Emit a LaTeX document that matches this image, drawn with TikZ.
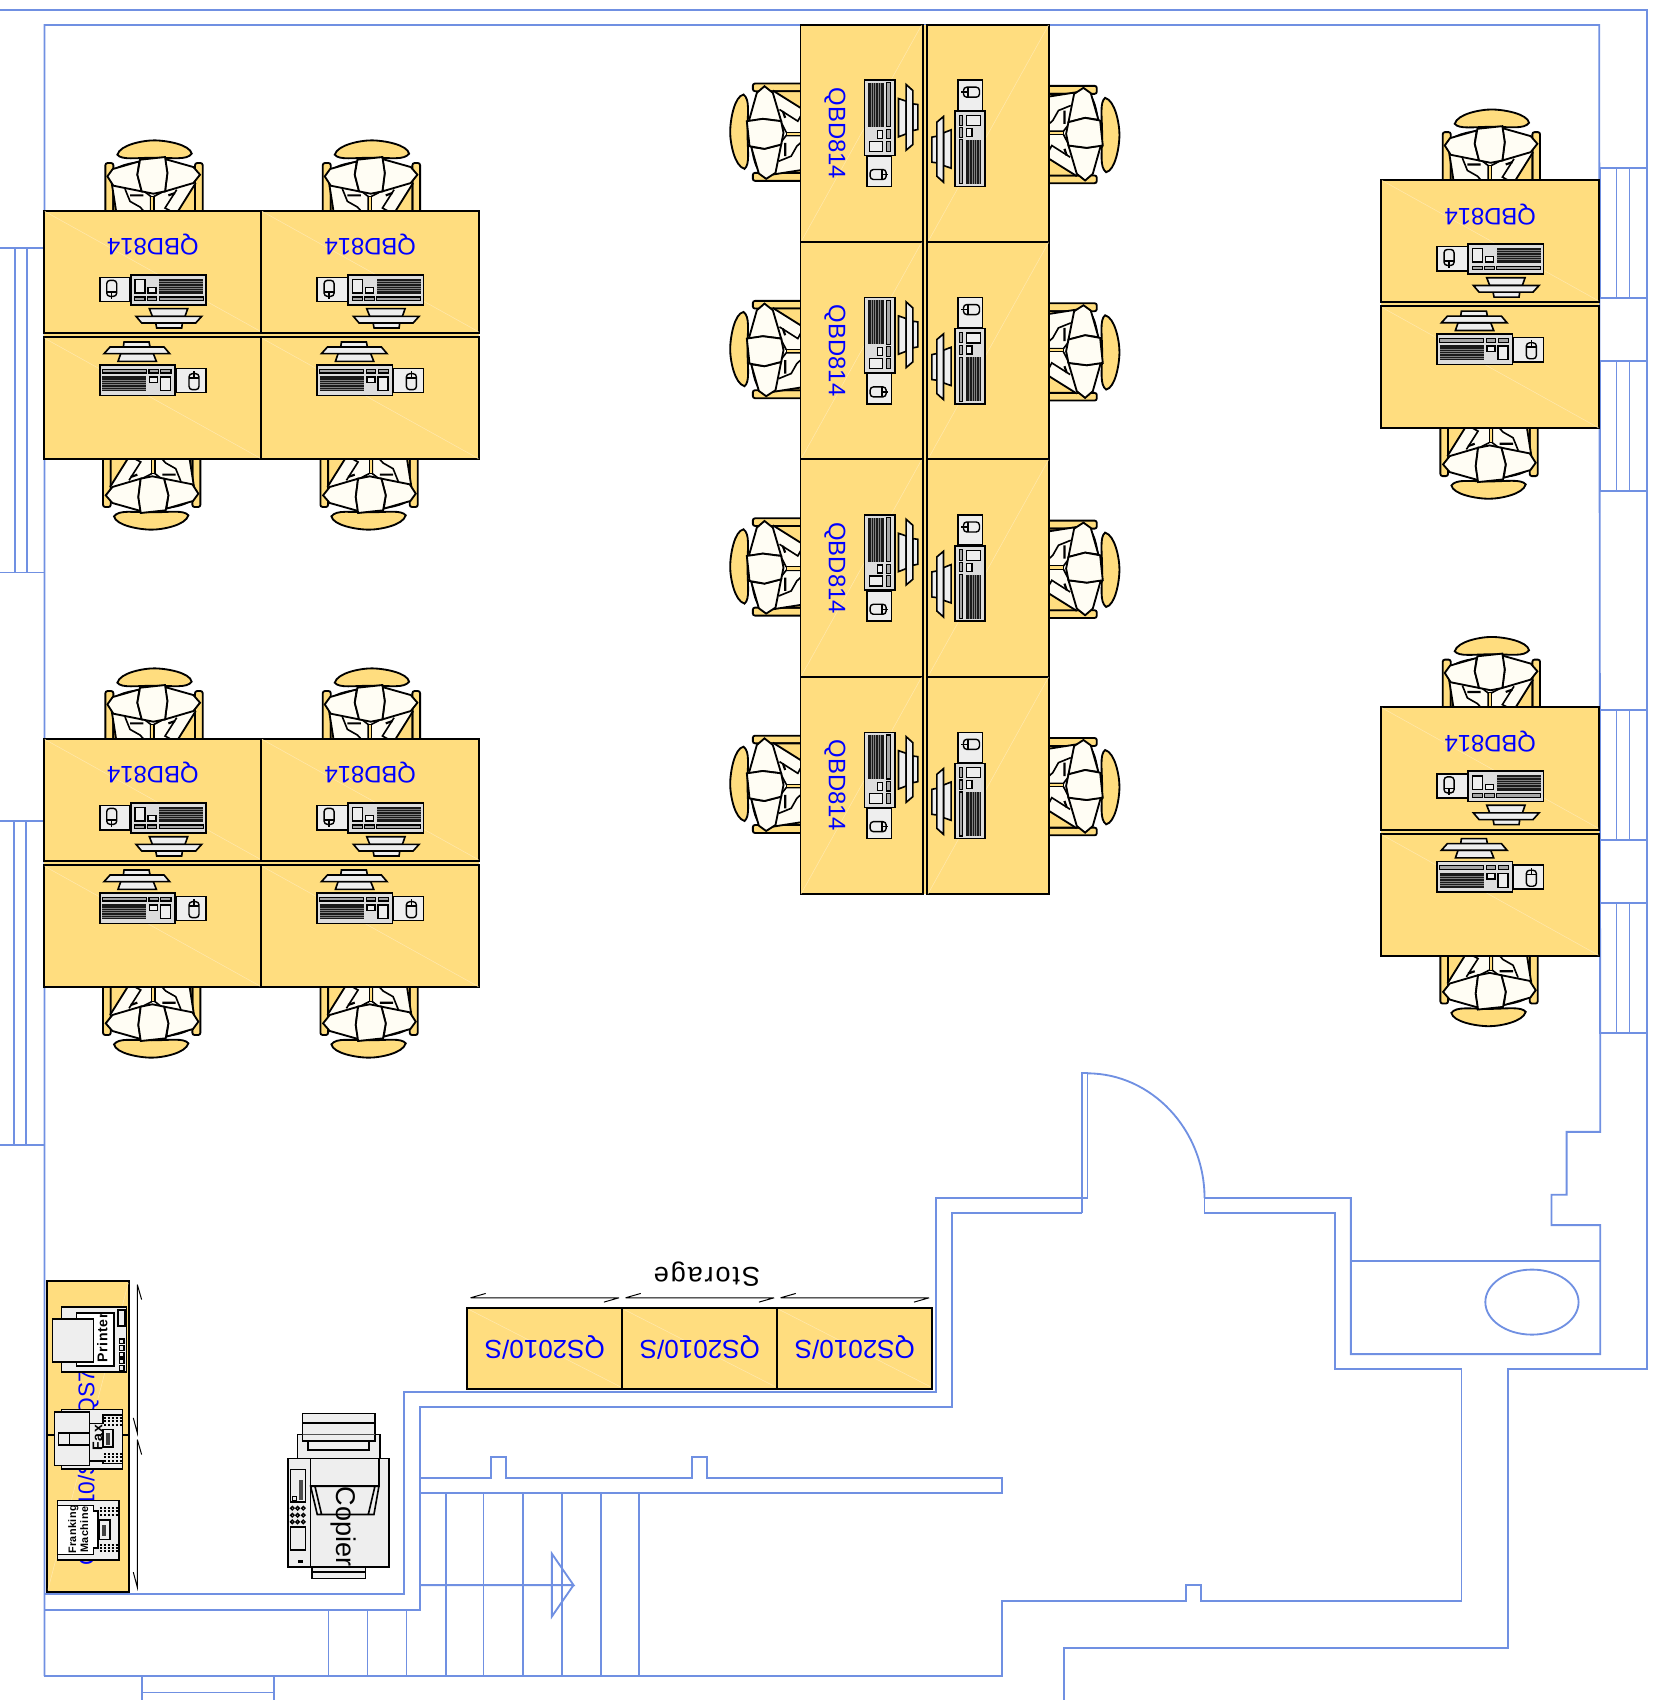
\documentclass[tikz,border=0pt]{standalone}
\usepackage{fontspec}
\setmainfont{Liberation Sans}
\definecolor{wallblue}{HTML}{7090E2}
\definecolor{deskyellow}{HTML}{FFDD7F}
\definecolor{deskglint}{HTML}{FFE8AC}
\definecolor{kitgray}{HTML}{EEEEEE}
\definecolor{keygray}{HTML}{DDDDDD}
\definecolor{skin}{HTML}{FFFDF4}
\tikzset{
  wall/.style={draw=wallblue,line width=1.7pt},
  deskedge/.style={draw=black,line width=1.8pt,fill=deskyellow},
  glint/.style={draw=deskglint,line width=.5pt},
  kit/.style={draw=black,line width=1.5pt,fill=kitgray},
  chair/.style={draw=black,line width=1.7pt,fill=deskyellow},
  body/.style={draw=black,line width=1.7pt,fill=skin},
  desktag/.style={text=blue,inner sep=0pt,font=\fontsize{22}{24}\selectfont},
  shelftag/.style={text=blue,inner sep=0pt,font=\fontsize{24}{26}\selectfont},
  kittag/.style={text=black,inner sep=0pt,font=\fontsize{13}{14}\selectfont\bfseries\addfontfeature{LetterSpace=5}},
  deskhalf/.pic={
    \begin{scope}[x=.3074pt,y=-.3074pt,shift={(-368.5,-616)}]
      % chair and sitter
      \draw[chair] (262,75) .. controls (270,45) and (340,32) .. (372,32) .. controls (410,32) and (480,45) .. (485,72) .. controls (470,92) and (430,84) .. (372,84) .. controls (320,84) and (275,92) .. (262,75) -- cycle;
      \draw[chair,rounded corners=2pt] (226,250) rectangle (250,100);
      \draw[chair,rounded corners=2pt] (495,250) rectangle (518,100);
      \draw[chair] (250,250) -- (250,125) .. controls (280,85) and (460,85) .. (495,125) -- (495,250) -- cycle;
      \fill[skin] (245,160) -- (258,243) -- (445,243) -- (497,160) -- cycle;
      \draw[black,line width=1.7pt] (245,160) -- (258,243) (497,160) -- (445,243);
      \draw[black,line width=1.5pt] (285,178) -- (300,215) -- (330,232) -- (340,243);
      \draw[black,line width=1.5pt] (340,183) -- (362,200) -- (362,243);
      \draw[chair,line width=1pt] (362,200) -- (372,200) -- (372,243) -- (362,243) -- cycle;
      \draw[black,line width=1.5pt] (372,200) -- (405,183);
      \draw[black,line width=1.5pt] (440,180) -- (405,235) -- (420,243);
      \draw[black,line width=2pt] (300,197) -- (340,197) (415,197) -- (435,190);
      \draw[body] (232,140) -- (248,118) -- (328,95) -- (322,135) -- (335,185) -- (250,168) -- cycle;
      \draw[body] (405,88) -- (490,112) -- (510,135) -- (490,160) -- (405,185) -- (412,130) -- cycle;
      \draw[body] (330,90) -- (405,82) -- (412,130) -- (405,185) -- (370,192) -- (335,185) -- (322,135) -- cycle;
      % desk top
      \fill[deskyellow] (42,600) rectangle (695,618);
      \draw[deskedge] (42,243) rectangle (695,610);
      \draw[glint] (44,245) -- (693,606);
      % mouse mat
      \draw[kit] (209,443) rectangle (300,516);
      \draw[black,line width=1.3pt,rounded corners=3pt] (230,452) rectangle (260,500);
      \draw[black,line width=1.3pt] (230,487) -- (260,487) (245,487) -- (245,507);
      % keyboard
      \draw[kit,fill=keygray] (302,435) rectangle (528,526);
      \draw[kit,line width=1.2pt] (315,449) rectangle (345,490);
      \draw[kit,line width=1.2pt] (354,474) rectangle (378,490);
      \fill[black!90] (388,447) rectangle (520,493);
      \foreach \y in {454,461,468,475,482}
        \draw[gray,line width=.25pt] (388,\y) -- (520,\y);
      \draw[kit,fill=gray!70,line width=1pt] (314,502) rectangle (345,513);
      \draw[kit,fill=gray!70,line width=1pt] (352,502) rectangle (380,513);
      \draw[kit,fill=gray!70,line width=1pt] (388,502) rectangle (520,513);
      % monitor
      \draw[kit] (358,537) -- (473,537) -- (465,560) -- (367,560) -- cycle;
      \draw[kit] (377,580) -- (457,580) -- (455,595) -- (380,595) -- cycle;
      \draw[kit] (318,560) -- (515,560) -- (497,580) -- (335,580) -- cycle;
    \end{scope}
  },
  deskpair/.pic={
    \pic[transform shape] {deskhalf};
    \pic[transform shape,rotate=180] {deskhalf};
    \node[desktag,rotate=180,transform shape] (tag) at (0,-83) {QBD814};
  }
}
\begin{document}
\begin{tikzpicture}[x=1pt,y=-1pt]
  \useasboundingbox (0,0) rectangle (1526,1568);

  % Walls
  \draw[wall] (0,9) -- (1519,9) -- (1519,1263) -- (1391,1263) -- (1391,1520) -- (981,1520) -- (981,1568);
  \draw[wall] (41,1546) -- (41,23) -- (1475,23) -- (1476,1044) -- (1445,1044) -- (1445,1102) -- (1431,1102) -- (1431,1130) -- (1476,1130) -- (1476,1249) -- (1246,1249) -- (1246,1105) -- (1111,1105);
  \draw[wall] (1246,1163) -- (1476,1163);
  \draw[wall] (1413,1201) ellipse (43 and 30);
  \draw[wall] (998,1119) -- (998,990) -- (1003,990) -- (1003,1105) -- (863,1105) -- (863,1284) -- (373,1284) -- (373,1470) -- (41,1470);
  \draw[wall] (998,1119) -- (878,1119) -- (878,1298) -- (387,1298) -- (387,1485) -- (41,1485);
  \draw[wall] (1003,990) .. controls (1062,990) and (1111,1042) .. (1111,1105);
  \draw[wall] (1111,1105) -- (1111,1119) -- (1231,1119) -- (1231,1263) -- (1348,1263) -- (1348,1477) -- (1108,1477) -- (1108,1462) -- (1094,1462) -- (1094,1477) -- (924,1477) -- (924,1546) -- (41,1546);
  \draw[wall] (131,1568) -- (131,1546) (253,1568) -- (253,1546) (131,1561) -- (253,1561);

  % Windows
  \draw[wall] (0,229) -- (41,229) (0,528) -- (41,528) (14,229) -- (14,528) (25,229) -- (25,528);
  \draw[wall] (0,757) -- (41,757) (0,1056) -- (41,1056) (13,757) -- (13,1056) (24,757) -- (24,1056);
  \foreach \top in {155,333,655,833}
    \draw[wall] (1476,\top) rectangle (1519,\top+120) (1491,\top) -- (1491,\top+120) (1503,\top) -- (1503,\top+120);

  % Stairs
  \draw[wall] (387,1363) -- (453,1363) -- (453,1344) -- (467,1344) -- (467,1363) -- (638,1363) -- (638,1344) -- (652,1344) -- (652,1363) -- (924,1363) -- (924,1377) -- (387,1377);
  \foreach \tread in {411,446,482,518,554,589}
    \draw[wall] (\tread,1377) -- (\tread,1546);
  \foreach \tread in {303,339,375}
    \draw[wall] (\tread,1485) -- (\tread,1546);
  \draw[wall] (387,1462) -- (529,1462) -- (509,1433) -- (509,1491) -- (529,1462);

  % Desks
  \pic (deskA) at (141,309) {deskpair};
  \pic (deskB) at (341.5,309) {deskpair};
  \pic (deskC) at (141,796) {deskpair};
  \pic (deskD) at (341.5,796) {deskpair};
  \pic (deskE) at (1374.5,280.5) {deskpair};
  \pic (deskF) at (1374.5,767) {deskpair};
  \pic[rotate=90] (deskG) at (853,123) {deskpair};
  \pic[rotate=90] (deskH) at (853,323.5) {deskpair};
  \pic[rotate=90] (deskI) at (853,524) {deskpair};
  \pic[rotate=90] (deskJ) at (853,724.5) {deskpair};

  % Storage
  \foreach \left/\right in {431/574,574/717,717/860}{
    \draw[deskedge] (\left,1206) rectangle (\right,1281);
    \draw[glint] (\left+2,1208) -- (\right-2,1279);
    \node[shelftag,rotate=180] (shelf\left) at ({(\left+\right)/2},1243) {QS2010/S};
    \draw[black,line width=.9pt] (\left+3,1197) -- (\right-3,1197) (\left+3,1197) -- (\left+17,1193) (\right-3,1197) -- (\right-17,1201);
  }
  \node[rotate=180,inner sep=0pt,font=\fontsize{25}{27}\selectfont\addfontfeature{LetterSpace=7}] (storagetag) at (652,1175) {Storage};

  % Office machines
  \begin{scope}[shift={(27.66,1171)},x=.3074pt,y=-.3074pt]
    \draw[deskedge] (52,33) rectangle (297,966);
    \draw[glint] (54,960) -- (295,40);
    \draw[black,line width=1.8pt] (52,497) -- (297,497);
    \node[shelftag,rotate=90,font=\fontsize{21}{23}\selectfont] (shelfA) at (175,280) {QS7010/S};
    \node[shelftag,rotate=90,font=\fontsize{21}{23}\selectfont] (shelfB) at (175,729) {QS7010/S};
    \draw[black,line width=.9pt] (322,45) -- (322,490) -- (310,445) (322,45) -- (335,90);
    \draw[black,line width=.9pt] (322,510) -- (322,953) -- (310,908) (322,510) -- (335,555);
    % printer
    \draw[kit] (95,113) rectangle (290,308);
    \draw[kit,fill=white] (140,130) rectangle (253,290);
    \draw[kit] (68,148) rectangle (190,277);
    \draw[kit] (265,122) rectangle (285,170);
    \foreach \y in {208,228,248,268,288}
      \draw[kit,line width=1.2pt] (268,\y) rectangle (282,\y+14);
    \node[kittag,rotate=90] (printertag) at (217,205) {Printer};
    % fax
    \draw[kit] (95,420) rectangle (278,598);
    \draw[kit] (73,428) rectangle (178,588);
    \draw[kit] (85,490) rectangle (178,527) (118,490) -- (118,527);
    \draw[kit] (178,462) -- (220,462) -- (220,436) -- (278,436) -- (278,582) -- (220,582) -- (220,575) -- (178,575) -- cycle;
    \draw[kit] (220,480) rectangle (250,532);
    \fill[black!75] (228,490) rectangle (240,525);
    \foreach \y in {445,455,465,553,563,573}
      \draw[black,line width=1.8pt,dash pattern=on 2.2pt off 1.4pt] (222,\y) -- (276,\y);
    \node[kittag,rotate=90] (faxtag) at (203,505) {Fax};
    % franking machine
    \draw[kit] (83,693) rectangle (267,871);
    \draw[kit,fill=white] (83,708) -- (190,708) -- (190,725) -- (205,725) -- (205,835) -- (190,835) -- (190,855) -- (83,855) -- cycle;
    \draw[kit] (208,752) rectangle (240,810);
    \fill[black!75] (215,765) rectangle (228,800);
    \foreach \y in {715,725,735,825,835,845}
      \draw[black,line width=1.8pt,dash pattern=on 2.2pt off 1.4pt] (210,\y) -- (265,\y);
    \node[kittag,align=center,rotate=90,font=\fontsize{10}{11}\selectfont\bfseries\addfontfeature{LetterSpace=4}] (frankingtag) at (145,780) {Franking\\Machine};
    % copier
    \draw[kit] (847,893) rectangle (1007,927) (847,908) -- (1007,908);
    \draw[kit] (818,432) rectangle (1035,495) (818,460) -- (1035,460);
    \draw[kit] (803,495) rectangle (1050,567);
    \draw[kit] (818,495) -- (818,515) -- (1035,515) -- (1035,495) (835,515) -- (835,542) -- (1018,542) -- (1018,515);
    \draw[kit] (775,567) rectangle (1078,893) (842,567) -- (842,893);
    \draw[kit] (842,567) rectangle (1047,650);
    \draw[kit,fill=kitgray] (842,650) -- (1047,650) -- (1032,735) -- (862,735) -- cycle (855,650) -- (875,735) (1035,650) -- (1015,735);
    \draw[kit] (782,600) rectangle (827,698);
    \fill[black!70] (808,632) rectangle (818,690);
    \draw[kit,line width=1.2pt] (787,680) rectangle (800,694);
    \foreach \y in {716,737,757}
      \foreach \x in {787,803,820}
        \draw[black,line width=1.3pt] (\x,\y) circle (1.6pt);
    \draw[kit] (782,772) rectangle (827,842);
    \fill[black] (805,872) rectangle (818,880);
    \node[text=black,rotate=-90,inner sep=0pt,font=\fontsize{25}{27}\selectfont] (copiertag) at (940,772) {Copier};
  \end{scope}
\end{tikzpicture}
\end{document}
